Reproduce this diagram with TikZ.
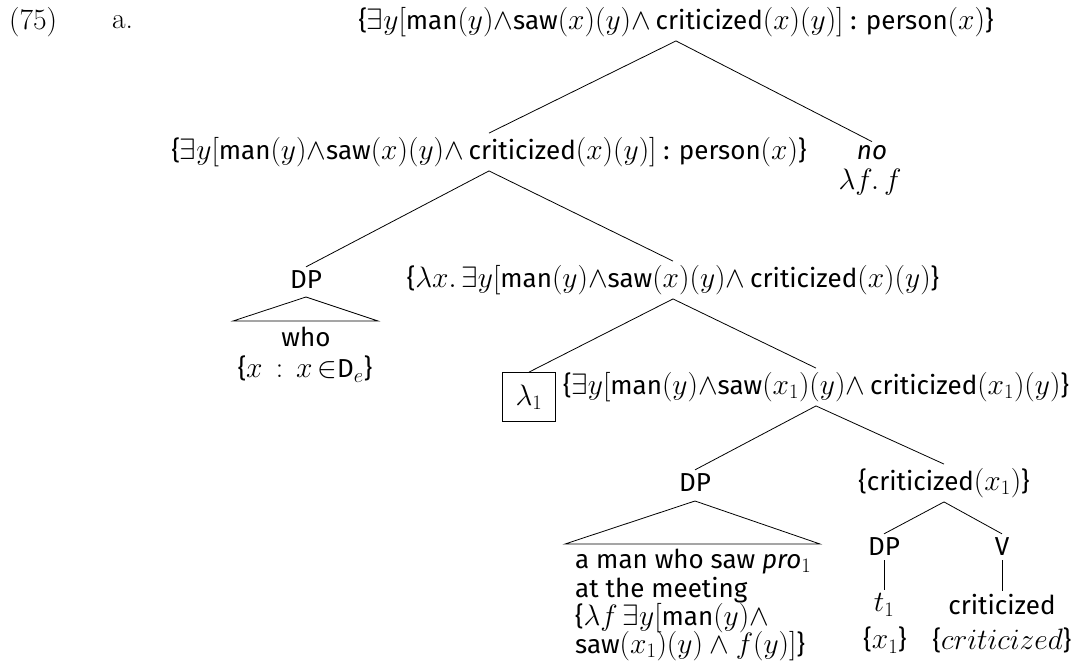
\RequirePackage{fix-cm}
\documentclass[tikz,border=0pt]{standalone}
\usepackage{fontspec}
\newfontfamily\fira{Fira Sans}
% math set a little larger than the sans text so x-heights agree
\DeclareMathSizes{26}{29.5}{20.5}{16}
\tikzset{
  txt/.style={font=\fira\fontsize{26}{29}\selectfont},
  lbl/.style={txt, inner xsep=0pt, inner ysep=4pt},
  plain/.style={txt, inner sep=0pt},
  exmark/.style={inner sep=0pt, anchor=west, font=\fontsize{29.5}{34}\selectfont},
  branch/.style={line width=0.8pt},
  lambox/.style={draw, line width=0.8pt, minimum width=53pt, minimum height=49pt, inner sep=0pt, txt}
}
\newcommand{\wg}{{\wedge}}
\begin{document}
\begin{tikzpicture}[x=1pt, y=-1pt]
\useasboundingbox (0,0) rectangle (1075,671);
% example number
\node[exmark] (exnum) at (9,22) {(75)};
\node[exmark] (exlet) at (112,22) {a.};
% top of the tree
\node[lbl] (root) at (676,22) {\{$\exists y[$man$(y)\wg$saw$(x)(y)\wg\,$criticized$(x)(y)]$ : person$(x)$\}};
\node[lbl] (n2) at (489,152) {\{$\exists y[$man$(y)\wg$saw$(x)(y)\wg\,$criticized$(x)(y)]$ : person$(x)$\}};
\node[lbl] (no) at (872,153) {\textit{no}};
\node[plain] (nofn) at (870,182) {$\lambda f.\,f$};
\draw[branch] (root.south) -- (n2.north);
\draw[branch] (root.south) -- (no.north);
% wh-phrase and its sister
\node[lbl] (dp1) at (306,280) {DP};
\node[lbl] (n3) at (673,280) {\{$\lambda x.\,\exists y[$man$(y)\wg$saw$(x)(y)\wg\,$criticized$(x)(y)$\}};
\draw[branch] (n2.south) -- (dp1.north);
\draw[branch] (n2.south) -- (n3.north);
\coordinate (t1top) at (306,297);
\coordinate (t1l) at (233,321);
\coordinate (t1r) at (378,321);
\draw[branch] (t1top) -- (t1l) -- (t1r) -- cycle;
\node[plain] (who) at (306,337) {who};
\node[plain] (whoden) at (305,369) {\{$x\,:\,x\,{\in}$D$_e$\}};
% lambda abstraction
\node[lambox] (lam) at (529,397) {$\lambda_1$};
\node[lbl] (n4) at (816,387) {\{$\exists y[$man$(y)\wg$saw$(x_1)(y)\wg\,$criticized$(x_1)(y)$\}};
\draw[branch] (n3.south) -- (lam.north);
\draw[branch] (n3.south) -- (n4.north);
% subject DP and VP
\node[lbl] (dp2) at (695,483) {DP};
\node[lbl] (n5) at (944,483) {\{criticized$(x_1)$\}};
\draw[branch] (n4.south) -- (dp2.north);
\draw[branch] (n4.south) -- (n5.north);
\coordinate (t2top) at (695,501);
\coordinate (t2l) at (565,544);
\coordinate (t2r) at (820,544);
\draw[branch] (t2top) -- (t2l) -- (t2r) -- cycle;
\node[plain, anchor=base west] (dpt1) at (575,568) {a man who saw \textit{pro}$_1$};
\node[plain, anchor=base west] (dpt2) at (575,597) {at the meeting};
\node[plain, anchor=base west] (dpt3) at (575,625) {\{$\lambda f\,\exists y[$man$(y)\wg$};
\node[plain, anchor=base west] (dpt4) at (575,653) {saw$(x_1)(y)\wedge f(y)]$\}};
% trace and verb
\node[lbl] (dp3) at (884,547) {DP};
\node[lbl] (vv) at (1002,547) {V};
\draw[branch] (n5.south) -- (dp3.north);
\draw[branch] (n5.south) -- (vv.north);
\node[lbl] (tr) at (884,605) {$t_1$};
\node[plain] (trden) at (885,640) {\{$x_1$\}};
\node[lbl] (crit) at (1002,605) {criticized};
\node[plain] (critden) at (1002,640) {\{$criticized$\}};
\draw[branch] (dp3.south) -- (tr.north);
\draw[branch] (vv.south) -- (crit.north);
\end{tikzpicture}
\end{document}
